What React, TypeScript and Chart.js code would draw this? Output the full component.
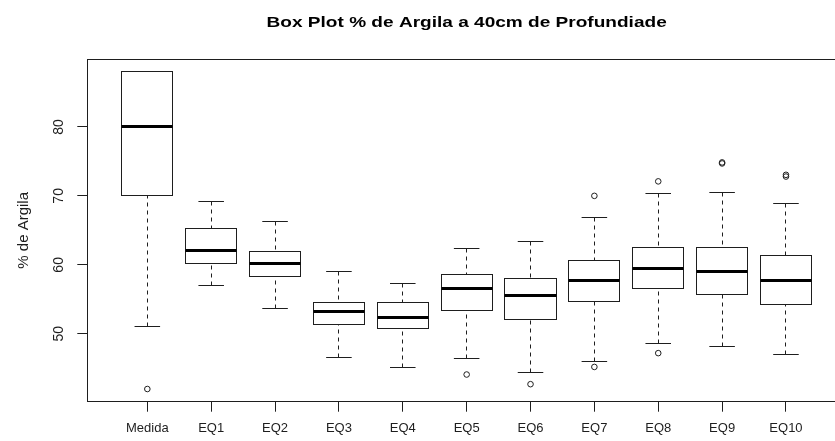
import { useEffect, useRef } from "react";
import { Chart, registerables } from "chart.js";

Chart.register(...registerables);

const chartTitle = "Box Plot % de Argila a 40cm de Profundiade";
const yAxisTitle = "% de Argila";

const categories = ["Medida", "EQ1", "EQ2", "EQ3", "EQ4", "EQ5", "EQ6", "EQ7", "EQ8", "EQ9", "EQ10"];
const whiskerLow = [51.0, 57.0, 53.6, 46.5, 45.1, 46.4, 44.4, 46.0, 48.6, 48.1, 47.0];
const q1 = [70.0, 60.2, 58.3, 51.4, 50.7, 53.4, 52.1, 54.7, 56.6, 55.7, 54.2];
const median = [80.0, 62.1, 60.2, 53.2, 52.4, 56.5, 55.5, 57.8, 59.5, 59.1, 57.8];
const q3 = [88.0, 65.2, 61.9, 54.6, 54.6, 58.6, 58.0, 60.7, 62.5, 62.5, 61.4];
const whiskerHigh = [88.0, 69.2, 66.3, 59.0, 57.3, 62.3, 63.4, 66.9, 70.3, 70.5, 68.9];
const outliers = [[42.0], [], [], [], [], [44.1], [42.7], [70.0, 45.2], [72.1, 47.2], [74.7, 74.85], [72.8, 73.05]];
const yTicks = [50, 60, 70, 80];

const FONT = "'Liberation Sans', Arial, Helvetica, sans-serif";
const INK = "#1e1e1e";

const crisp = (v: number) => Math.floor(v) + 0.5;

const allValues = [...whiskerLow, ...whiskerHigh, ...outliers.flat()];
const dataLo = Math.min(...allValues);
const dataHi = Math.max(...allValues);
const yMin = dataLo - 0.04 * (dataHi - dataLo);
const yMax = dataHi + 0.04 * (dataHi - dataLo);
const xMin = 0.5 - 0.04 * categories.length;
const xMax = categories.length + 0.5 + 0.04 * categories.length;

const outlierPoints = outliers.flatMap((vals, i) => vals.map((v) => ({ x: i + 1, y: v })));

const boxPlotPlugin = {
  id: "boxPlot",
  beforeDatasetsDraw(chart: any) {
    const { ctx, scales } = chart;
    const x = scales.x;
    const y = scales.y;
    ctx.save();
    ctx.strokeStyle = INK;
    ctx.lineCap = "butt";
    categories.forEach((_, i) => {
      const c = i + 1;
      const xc = crisp(x.getPixelForValue(c));
      const bl = crisp(x.getPixelForValue(c - 0.4));
      const br = crisp(x.getPixelForValue(c + 0.4));
      const sl = x.getPixelForValue(c - 0.2);
      const sr = x.getPixelForValue(c + 0.2);
      const yLo = crisp(y.getPixelForValue(whiskerLow[i]));
      const yHi = crisp(y.getPixelForValue(whiskerHigh[i]));
      const yQ1 = crisp(y.getPixelForValue(q1[i]));
      const yQ3 = crisp(y.getPixelForValue(q3[i]));
      const yMed = crisp(y.getPixelForValue(median[i]));

      ctx.lineWidth = 1;
      ctx.setLineDash([4, 4]);
      ctx.beginPath();
      ctx.moveTo(xc, yLo);
      ctx.lineTo(xc, yQ1);
      ctx.moveTo(xc, yHi);
      ctx.lineTo(xc, yQ3);
      ctx.stroke();
      ctx.setLineDash([]);

      ctx.beginPath();
      ctx.moveTo(sl, yLo);
      ctx.lineTo(sr, yLo);
      ctx.moveTo(sl, yHi);
      ctx.lineTo(sr, yHi);
      ctx.stroke();

      ctx.strokeRect(bl, yQ3, br - bl, yQ1 - yQ3);

      ctx.lineWidth = 3;
      ctx.strokeStyle = "#000";
      ctx.beginPath();
      ctx.moveTo(bl, yMed);
      ctx.lineTo(br, yMed);
      ctx.stroke();
      ctx.strokeStyle = INK;
    });
    ctx.restore();
  },
  afterDraw(chart: any) {
    const { ctx, chartArea, scales } = chart;
    const y = scales.y;
    ctx.save();
    // frame
    ctx.strokeStyle = INK;
    ctx.lineWidth = 1;
    const l = crisp(chartArea.left);
    const t = crisp(chartArea.top);
    const r = crisp(chartArea.right);
    const b = crisp(chartArea.bottom);
    ctx.strokeRect(l, t, r - l, b - t);

    // y tick labels (rotated, R style)
    ctx.fillStyle = INK;
    ctx.font = `14px ${FONT}`;
    ctx.textAlign = "center";
    ctx.textBaseline = "middle";
    yTicks.forEach((v) => {
      ctx.save();
      ctx.translate(chartArea.left - 28.5, y.getPixelForValue(v));
      ctx.rotate(-Math.PI / 2);
      ctx.fillText(String(v), 0, 0);
      ctx.restore();
    });

    // main title (wide bold face)
    ctx.font = `bold 15px ${FONT}`;
    ctx.textAlign = "center";
    ctx.textBaseline = "alphabetic";
    ctx.fillStyle = "#000";
    ctx.translate((chartArea.left + chartArea.right) / 2, 26.7);
    ctx.scale(1.27, 1);
    ctx.fillText(chartTitle, 0, 0);
    ctx.restore();
  },
};

export default function App() {
  const canvasRef = useRef<HTMLCanvasElement | null>(null);

  useEffect(() => {
    document.body.style.margin = "0";
    const canvas = canvasRef.current;
    if (!canvas) return;
    const chart = new Chart(canvas, {
      type: "scatter",
      data: {
        datasets: [
          {
            data: outlierPoints,
            pointRadius: 2.8,
            pointHoverRadius: 2.8,
            pointBorderWidth: 1,
            borderColor: INK,
            backgroundColor: "rgba(0,0,0,0)",
            pointStyle: "circle",
          },
        ],
      },
      options: {
        animation: false,
        responsive: false,
        devicePixelRatio: 1,
        events: [],
        layout: { padding: { top: 59, right: 14, bottom: 0, left: 0 } },
        plugins: {
          legend: { display: false },
          tooltip: { enabled: false },
          title: { display: false },
        },
        scales: {
          x: {
            type: "linear",
            bounds: "data",
            min: xMin,
            max: xMax,
            afterBuildTicks: (s: any) => {
              s.ticks = categories.map((_, i) => ({ value: i + 1 }));
            },
            afterFit: (s: any) => {
              s.height = 39.3;
            },
            grid: { drawOnChartArea: false, drawTicks: true, tickLength: 10, color: INK, lineWidth: 1 },
            border: { display: false },
            ticks: {
              autoSkip: false,
              maxRotation: 0,
              minRotation: 0,
              padding: 9,
              color: INK,
              font: { family: FONT, size: 13 },
              callback: (v: any) => categories[Math.round(Number(v)) - 1] ?? "",
            },
          },
          y: {
            type: "linear",
            bounds: "data",
            min: yMin,
            max: yMax,
            afterBuildTicks: (s: any) => {
              s.ticks = yTicks.map((v) => ({ value: v }));
            },
            afterFit: (s: any) => {
              s.width = 87.3;
            },
            grid: { drawOnChartArea: false, drawTicks: true, tickLength: 10, color: INK, lineWidth: 1 },
            border: { display: false },
            ticks: { display: false },
            title: {
              display: true,
              text: yAxisTitle,
              color: INK,
              font: { family: FONT, size: 15 },
              padding: { top: 14.5, bottom: 0 },
            },
          },
        },
      },
      plugins: [boxPlotPlugin],
    } as any);
    return () => chart.destroy();
  }, []);

  return (
    <div style={{ width: 835, height: 441, overflow: "hidden", background: "#fff" }}>
      <canvas ref={canvasRef} width={860} height={441} style={{ display: "block", width: 860, height: 441 }} />
    </div>
  );
}
